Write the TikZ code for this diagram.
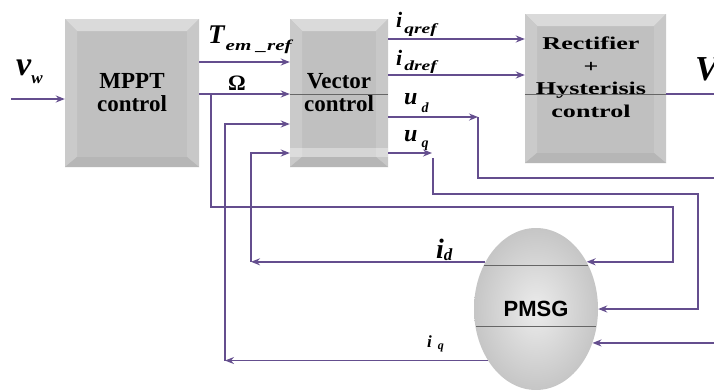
\documentclass[tikz,border=0pt]{standalone}
\usepackage{fontspec}
\setmainfont{Liberation Serif}
\newfontfamily\sansb{Liberation Sans}
\newfontfamily\wideserif[FakeStretch=1.45]{Liberation Serif}
\newfontfamily\subserif[FakeStretch=1.4]{Liberation Serif}
\newcommand\narrow[1]{\scalebox{0.69}[1]{#1}}
\usetikzlibrary{shapes.geometric,arrows.meta,calc}
\definecolor{wirec}{RGB}{100,78,142}
\definecolor{boxface}{RGB}{192,192,192}
\definecolor{bevtop}{RGB}{218,218,218}
\definecolor{bevleft}{RGB}{202,202,202}
\definecolor{bevright}{RGB}{200,200,200}
\definecolor{bevbot}{RGB}{182,182,182}
\tikzset{
  wire/.style={draw=wirec, line width=1.6pt},
  arr/.style={wire, -{Stealth[length=9pt,width=7pt,inset=3pt]}},
  thinl/.style={draw=gray!80!black, line width=0.5pt},
  lbl/.style={inner sep=0pt, anchor=base west},
  boxtext/.style={inner sep=0pt, align=center, font=\wideserif\fontsize{23}{23}\selectfont\bfseries},
  bevelbox/.style={rectangle, fill=boxface, inner sep=0pt, align=center,
    path picture={
      \fill[bevtop] (path picture bounding box.north west) -- (path picture bounding box.north east)
        -- ([shift={(-12,12)}]path picture bounding box.north east) -- ([shift={(12,12)}]path picture bounding box.north west) -- cycle;
      \fill[bevleft] (path picture bounding box.north west) -- ([shift={(12,12)}]path picture bounding box.north west)
        -- ([shift={(12,-10)}]path picture bounding box.south west) -- (path picture bounding box.south west) -- cycle;
      \fill[bevright] (path picture bounding box.north east) -- ([shift={(-12,12)}]path picture bounding box.north east)
        -- ([shift={(-12,-10)}]path picture bounding box.south east) -- (path picture bounding box.south east) -- cycle;
      \fill[bevbot] (path picture bounding box.south west) -- ([shift={(12,-10)}]path picture bounding box.south west)
        -- ([shift={(-12,-10)}]path picture bounding box.south east) -- (path picture bounding box.south east) -- cycle;
    }}
}
\begin{document}
\begin{tikzpicture}[x=1pt,y=-1pt]
\useasboundingbox (0,0) rectangle (714,389);
\clip (0,0) rectangle (714,389);
\fill[white] (0,0) rectangle (714,389);

% blocks
\node[bevelbox, minimum width=134pt, minimum height=148pt] (mppt) at (132,93) {};
\node[boxtext] (mpptlabel) at (mppt.center) {\narrow{MPPT}\\\narrow{control}};
\node[bevelbox, minimum width=98pt, minimum height=148pt] (vec) at (339,93) {};
\fill[white, opacity=0.35] ($(vec.south west)+(0,-19)$) rectangle ($(vec.south east)+(0,-10)$);
\node[boxtext] (veclabel) at (vec.center) {\narrow{Vector}\\\narrow{control}};
\node[bevelbox, minimum width=141pt, minimum height=149pt] (rect) at (595.5,88.5) {};
\node[inner sep=0pt, align=center, font=\wideserif\fontsize{18}{22.5}\selectfont\bfseries] (rectlabel) at (591,77) {Rectifier\\+\\Hysterisis\\control};
\node[ellipse, inner sep=0pt, minimum width=124pt, minimum height=162pt,
      shading=radial, inner color=gray!15, outer color=gray!45,
      font=\sansb\fontsize{22}{22}\selectfont\bfseries] (pmsg) at (536,309) {PMSG};

% thin lines through the shapes
\coordinate (yT) at (0,62);
\coordinate (yO) at (0,94);
\coordinate (yIq) at (0,124);
\coordinate (yId) at (0,153);
\coordinate (yqr) at (0,39);
\coordinate (ydr) at (0,75);
\coordinate (yud) at (0,117);
\coordinate (yuq) at (0,153);
\draw[thinl] (vec.west|-yO) -- (vec.east|-yO);
\draw[thinl] (rect.west|-yO) -- (rect.east|-yO);
\draw[thinl] ($(pmsg.center)+(-52,-44)$) -- ($(pmsg.center)+(52,-44)$);
\draw[thinl] ($(pmsg.center)+(-60,17)$) -- ($(pmsg.center)+(60,17)$);

% connectors
\coordinate (vwin) at (11,99);
\draw[arr] (vwin) -- (vwin -| mppt.west);
\draw[arr] (mppt.east|-yT) -- (vec.west|-yT);
\draw[arr] (mppt.east|-yO) -- (vec.west|-yO);
\coordinate (omj) at (211,94);
\coordinate (c1) at (673,207);
\draw[arr] (omj) |- (c1) |- (pmsg.43);

\coordinate (iqc) at (225,0);
\draw[arr] (pmsg.227) -- (pmsg.227 -| iqc);
\draw[arr] (pmsg.227 -| iqc) |- (vec.west|-yIq);
\coordinate (idc) at (251,0);
\draw[arr] (pmsg.137) -- (pmsg.137 -| idc);
\draw[arr] (pmsg.137 -| idc) |- (vec.west|-yId);

\draw[arr] (vec.east|-yqr) -- (rect.west|-yqr);
\draw[arr] (vec.east|-ydr) -- (rect.west|-ydr);
\coordinate (vout) at (716,94);
\draw[wire] (rect.east|-yO) -- (vout);

\coordinate (udtip) at (478,117);
\draw[arr, line width=2.2pt] (vec.east|-yud) -- (udtip);
\coordinate (udend) at (716,178);
\draw[wire] (udtip) |- (udend);

\coordinate (uqtip) at (432,153);
\draw[arr] (vec.east|-yuq) -- (uqtip);
\coordinate (uqs) at (433,158);
\coordinate (c2) at (698,194);
\draw[arr] (uqs) |- (c2) |- (pmsg.east);

\coordinate (pin) at (716,0);
\draw[arr] (pin |- pmsg.329) -- (pmsg.329);

% labels
\node[lbl] (vwl) at (16,75) {\fontsize{34}{34}\selectfont\bfseries\itshape v\raisebox{-8pt}{\fontsize{17}{17}\selectfont w}};
\node[lbl] (teml) at (208,43) {\fontsize{27}{27}\selectfont\bfseries\itshape T\kern1pt\raisebox{-7pt}{\subserif\fontsize{15}{15}\selectfont\bfseries\itshape em \_ref}};
\node[inner sep=0pt, anchor=base] (oml) at (237,90) {\wideserif\fontsize{22}{22}\selectfont\bfseries\narrow{Ω}};
\node[lbl] (iqrl) at (396,27) {\fontsize{22}{22}\selectfont\bfseries\itshape i\kern2pt\raisebox{-6pt}{\subserif\fontsize{14}{14}\selectfont\bfseries\itshape qref}};
\node[lbl] (idrl) at (396,65) {\fontsize{22}{22}\selectfont\bfseries\itshape i\kern2pt\raisebox{-5pt}{\subserif\fontsize{14}{14}\selectfont\bfseries\itshape dref}};
\node[lbl] (udl) at (404,104) {\fontsize{24}{24}\selectfont\bfseries\itshape u\kern4pt\raisebox{-8pt}{\fontsize{14}{14}\selectfont\bfseries\itshape d}};
\node[lbl] (uql) at (404,141) {\fontsize{24}{24}\selectfont\bfseries\itshape u\kern4pt\raisebox{-6pt}{\fontsize{14}{14}\selectfont\bfseries\itshape q}};
\node[lbl] (idl) at (436,258) {\fontsize{28}{28}\selectfont\bfseries\itshape i\raisebox{-2pt}{\fontsize{17}{17}\selectfont\bfseries\itshape d}};
\node[lbl] (iql) at (427,347) {\fontsize{17}{17}\selectfont\bfseries\itshape i\kern6pt\raisebox{-2pt}{\fontsize{12}{12}\selectfont\bfseries\itshape q}};
\node[lbl] (vl) at (695,80) {\fontsize{35}{35}\selectfont\bfseries\itshape V};
\end{tikzpicture}
\end{document}
